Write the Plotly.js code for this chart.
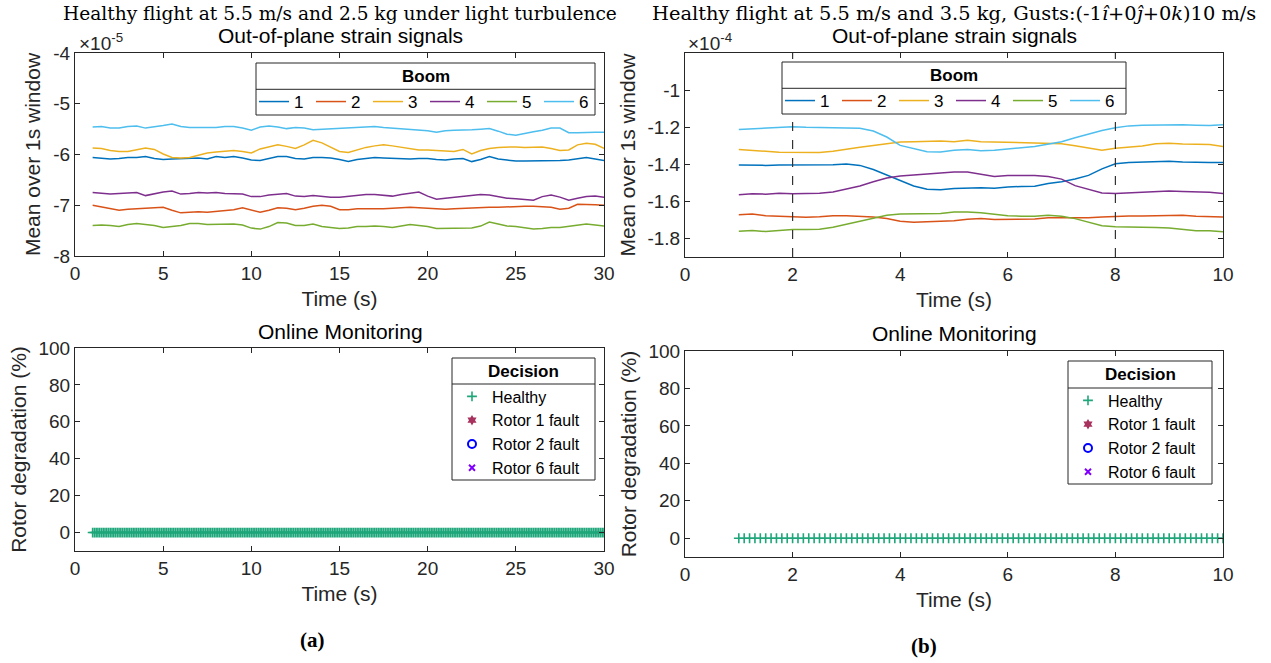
<!DOCTYPE html>
<html>
<head>
<meta charset="utf-8">
<script src="https://cdn.plot.ly/plotly-3.0.1.min.js"></script>
<style>
html,body{margin:0;padding:0;background:#fff;}
#chart{width:1271px;height:663px;}
</style>
</head>
<body>
<div id="chart"></div>
<script>
// ---------------- DATA ----------------
// (a) Healthy flight at 5.5 m/s, 2.5 kg, light turbulence. Strain values in units of 1e-5
const timeA = [1,1.5,2,2.5,3,3.5,4,4.5,5,5.5,6,6.5,7,7.5,8,8.5,9,9.5,10,10.5,11,11.5,12,12.5,13,13.5,
  14,14.5,15,15.5,16,16.5,17,17.5,18,18.5,19,19.5,20,20.5,21,21.5,22,22.5,23,23.5,24,24.5,25,25.5,26,26.5,27,27.5,28,28.5,29,29.5,30];
const boomA1 = [-6.06,-6.07,-6.09,-6.08,-6.06,-6.06,-6.04,-6.08,-6.10,-6.09,-6.08,-6.07,-6.07,-6.09,-6.04,-6.06,-6.04,-6.07,-6.11,-6.12,-6.08,-6.04,-6.04,-6.08,-6.09,-6.06,
  -6.06,-6.07,-6.10,-6.14,-6.10,-6.08,-6.06,-6.07,-6.08,-6.09,-6.09,-6.08,-6.08,-6.10,-6.11,-6.09,-6.08,-6.14,-6.10,-6.04,-6.09,-6.11,-6.13,-6.13,-6.13,-6.12,-6.12,-6.12,-6.11,-6.08,-6.06,-6.09,-6.12];
const boomA2 = [-7.00,-7.03,-7.07,-7.10,-7.08,-7.07,-7.07,-7.05,-7.04,-7.10,-7.15,-7.14,-7.13,-7.14,-7.12,-7.10,-7.09,-7.05,-7.10,-7.14,-7.10,-7.05,-7.06,-7.09,-7.06,-7.02,
  -7.00,-7.02,-7.09,-7.09,-7.07,-7.07,-7.08,-7.07,-7.06,-7.05,-7.04,-7.05,-7.06,-7.07,-7.08,-7.07,-7.06,-7.05,-7.05,-7.04,-7.04,-7.03,-7.03,-7.02,-7.02,-7.03,-7.04,-7.08,-7.06,-6.98,-6.98,-6.99,-7.00];
const boomA3 = [-5.87,-5.88,-5.92,-5.94,-5.94,-5.91,-5.87,-5.90,-5.99,-6.06,-6.07,-6.06,-6.02,-5.97,-5.95,-5.93,-5.92,-5.94,-5.97,-5.89,-5.85,-5.81,-5.84,-5.88,-5.81,-5.72,
  -5.77,-5.85,-5.94,-5.96,-5.91,-5.86,-5.83,-5.81,-5.83,-5.86,-5.89,-5.91,-5.91,-5.92,-5.92,-5.94,-5.90,-5.99,-5.92,-5.88,-5.86,-5.85,-5.85,-5.86,-5.85,-5.85,-5.88,-5.92,-5.91,-5.81,-5.78,-5.80,-5.88];
const boomA4 = [-6.75,-6.77,-6.78,-6.77,-6.76,-6.75,-6.81,-6.77,-6.74,-6.72,-6.78,-6.77,-6.75,-6.76,-6.75,-6.77,-6.77,-6.78,-6.83,-6.83,-6.80,-6.78,-6.77,-6.82,-6.83,-6.81,
  -6.83,-6.84,-6.84,-6.82,-6.80,-6.79,-6.79,-6.80,-6.82,-6.79,-6.77,-6.74,-6.82,-6.88,-6.86,-6.84,-6.83,-6.81,-6.79,-6.80,-6.83,-6.86,-6.87,-6.88,-6.90,-6.83,-6.80,-6.84,-6.90,-6.86,-6.83,-6.82,-6.84];
const boomA5 = [-7.40,-7.39,-7.40,-7.42,-7.38,-7.36,-7.38,-7.40,-7.44,-7.42,-7.40,-7.36,-7.36,-7.38,-7.38,-7.37,-7.37,-7.39,-7.45,-7.47,-7.42,-7.34,-7.35,-7.40,-7.40,-7.37,
  -7.42,-7.44,-7.46,-7.45,-7.42,-7.42,-7.41,-7.42,-7.44,-7.41,-7.38,-7.40,-7.42,-7.46,-7.46,-7.46,-7.46,-7.45,-7.41,-7.33,-7.37,-7.41,-7.42,-7.45,-7.47,-7.46,-7.44,-7.44,-7.42,-7.40,-7.37,-7.39,-7.41];
const boomA6 = [-5.46,-5.45,-5.48,-5.48,-5.45,-5.44,-5.48,-5.46,-5.43,-5.40,-5.45,-5.47,-5.47,-5.47,-5.47,-5.45,-5.45,-5.48,-5.52,-5.46,-5.44,-5.46,-5.49,-5.47,-5.48,-5.51,
  -5.50,-5.49,-5.48,-5.48,-5.47,-5.46,-5.45,-5.47,-5.48,-5.49,-5.50,-5.52,-5.53,-5.56,-5.53,-5.52,-5.52,-5.51,-5.50,-5.49,-5.54,-5.60,-5.62,-5.58,-5.55,-5.52,-5.48,-5.48,-5.57,-5.57,-5.56,-5.56,-5.56];

// (b) Healthy flight at 5.5 m/s, 3.5 kg, gust. Strain values in units of 1e-4
const timeB = [1,1.25,1.5,1.75,2,2.25,2.5,2.75,3,3.25,3.5,3.75,4,4.25,4.5,4.75,
  5,5.25,5.5,5.75,6,6.25,6.5,6.75,7,7.25,7.5,7.75,8,8.25,8.5,8.75,9,9.25,9.5,9.75,10];
const boomB1 = [-1.404,-1.406,-1.406,-1.404,-1.404,-1.406,-1.406,-1.402,-1.399,-1.406,-1.428,-1.458,-1.488,-1.517,-1.535,-1.538,
  -1.531,-1.527,-1.527,-1.529,-1.522,-1.520,-1.518,-1.504,-1.494,-1.479,-1.460,-1.425,-1.397,-1.391,-1.388,-1.384,-1.384,-1.388,-1.391,-1.391,-1.391];
const boomB2 = [-1.672,-1.668,-1.677,-1.679,-1.683,-1.686,-1.683,-1.677,-1.677,-1.679,-1.684,-1.693,-1.707,-1.713,-1.711,-1.707,
  -1.705,-1.696,-1.693,-1.698,-1.696,-1.696,-1.695,-1.688,-1.688,-1.688,-1.689,-1.684,-1.680,-1.679,-1.679,-1.677,-1.677,-1.675,-1.680,-1.684,-1.684];
const boomB3 = [-1.321,-1.324,-1.330,-1.335,-1.337,-1.337,-1.337,-1.330,-1.317,-1.308,-1.299,-1.290,-1.280,-1.278,-1.276,-1.274,
  -1.278,-1.271,-1.278,-1.280,-1.278,-1.282,-1.286,-1.284,-1.289,-1.300,-1.314,-1.325,-1.313,-1.307,-1.302,-1.289,-1.286,-1.291,-1.293,-1.293,-1.304];
const boomB4 = [-1.565,-1.559,-1.561,-1.556,-1.559,-1.557,-1.556,-1.549,-1.533,-1.517,-1.494,-1.474,-1.463,-1.458,-1.449,-1.445,
  -1.442,-1.442,-1.455,-1.466,-1.460,-1.460,-1.460,-1.466,-1.480,-1.515,-1.537,-1.555,-1.558,-1.555,-1.551,-1.547,-1.544,-1.547,-1.549,-1.551,-1.558];
const boomB5 = [-1.761,-1.757,-1.763,-1.757,-1.752,-1.752,-1.750,-1.739,-1.722,-1.707,-1.691,-1.675,-1.668,-1.666,-1.665,-1.666,
  -1.657,-1.657,-1.662,-1.671,-1.678,-1.680,-1.680,-1.675,-1.680,-1.693,-1.711,-1.732,-1.737,-1.737,-1.737,-1.741,-1.743,-1.750,-1.759,-1.759,-1.764];
const boomB6 = [-1.212,-1.208,-1.203,-1.200,-1.198,-1.201,-1.203,-1.201,-1.203,-1.206,-1.221,-1.253,-1.298,-1.317,-1.333,-1.334,
  -1.325,-1.321,-1.327,-1.325,-1.316,-1.311,-1.304,-1.289,-1.278,-1.257,-1.236,-1.218,-1.203,-1.193,-1.189,-1.187,-1.187,-1.187,-1.189,-1.191,-1.187];
const gustTimesB = [2, 8];

// Online monitoring decisions (rotor degradation, %)
const decisionTimesA = [
  1,1.1,1.2,1.3,1.4,1.5,1.6,1.7,1.8,1.9, 2,2.1,2.2,2.3,2.4,2.5,2.6,2.7,2.8,2.9,
  3,3.1,3.2,3.3,3.4,3.5,3.6,3.7,3.8,3.9, 4,4.1,4.2,4.3,4.4,4.5,4.6,4.7,4.8,4.9,
  5,5.1,5.2,5.3,5.4,5.5,5.6,5.7,5.8,5.9, 6,6.1,6.2,6.3,6.4,6.5,6.6,6.7,6.8,6.9,
  7,7.1,7.2,7.3,7.4,7.5,7.6,7.7,7.8,7.9, 8,8.1,8.2,8.3,8.4,8.5,8.6,8.7,8.8,8.9,
  9,9.1,9.2,9.3,9.4,9.5,9.6,9.7,9.8,9.9, 10,10.1,10.2,10.3,10.4,10.5,10.6,10.7,10.8,10.9,
  11,11.1,11.2,11.3,11.4,11.5,11.6,11.7,11.8,11.9, 12,12.1,12.2,12.3,12.4,12.5,12.6,12.7,12.8,12.9,
  13,13.1,13.2,13.3,13.4,13.5,13.6,13.7,13.8,13.9, 14,14.1,14.2,14.3,14.4,14.5,14.6,14.7,14.8,14.9,
  15,15.1,15.2,15.3,15.4,15.5,15.6,15.7,15.8,15.9, 16,16.1,16.2,16.3,16.4,16.5,16.6,16.7,16.8,16.9,
  17,17.1,17.2,17.3,17.4,17.5,17.6,17.7,17.8,17.9, 18,18.1,18.2,18.3,18.4,18.5,18.6,18.7,18.8,18.9,
  19,19.1,19.2,19.3,19.4,19.5,19.6,19.7,19.8,19.9, 20,20.1,20.2,20.3,20.4,20.5,20.6,20.7,20.8,20.9,
  21,21.1,21.2,21.3,21.4,21.5,21.6,21.7,21.8,21.9, 22,22.1,22.2,22.3,22.4,22.5,22.6,22.7,22.8,22.9,
  23,23.1,23.2,23.3,23.4,23.5,23.6,23.7,23.8,23.9, 24,24.1,24.2,24.3,24.4,24.5,24.6,24.7,24.8,24.9,
  25,25.1,25.2,25.3,25.4,25.5,25.6,25.7,25.8,25.9, 26,26.1,26.2,26.3,26.4,26.5,26.6,26.7,26.8,26.9,
  27,27.1,27.2,27.3,27.4,27.5,27.6,27.7,27.8,27.9, 28,28.1,28.2,28.3,28.4,28.5,28.6,28.7,28.8,28.9,
  29,29.1,29.2,29.3,29.4,29.5,29.6,29.7,29.8,29.9, 30];
const healthyDegA = [
  0,0,0,0,0,0,0,0,0,0, 0,0,0,0,0,0,0,0,0,0, 0,0,0,0,0,0,0,0,0,0, 0,0,0,0,0,0,0,0,0,0,
  0,0,0,0,0,0,0,0,0,0, 0,0,0,0,0,0,0,0,0,0, 0,0,0,0,0,0,0,0,0,0, 0,0,0,0,0,0,0,0,0,0,
  0,0,0,0,0,0,0,0,0,0, 0,0,0,0,0,0,0,0,0,0, 0,0,0,0,0,0,0,0,0,0, 0,0,0,0,0,0,0,0,0,0,
  0,0,0,0,0,0,0,0,0,0, 0,0,0,0,0,0,0,0,0,0, 0,0,0,0,0,0,0,0,0,0, 0,0,0,0,0,0,0,0,0,0,
  0,0,0,0,0,0,0,0,0,0, 0,0,0,0,0,0,0,0,0,0, 0,0,0,0,0,0,0,0,0,0, 0,0,0,0,0,0,0,0,0,0,
  0,0,0,0,0,0,0,0,0,0, 0,0,0,0,0,0,0,0,0,0, 0,0,0,0,0,0,0,0,0,0, 0,0,0,0,0,0,0,0,0,0,
  0,0,0,0,0,0,0,0,0,0, 0,0,0,0,0,0,0,0,0,0, 0,0,0,0,0,0,0,0,0,0, 0,0,0,0,0,0,0,0,0,0,
  0,0,0,0,0,0,0,0,0,0, 0];
const decisionTimesB = [
  1,1.1,1.2,1.3,1.4,1.5,1.6,1.7,1.8,1.9, 2,2.1,2.2,2.3,2.4,2.5,2.6,2.7,2.8,2.9,
  3,3.1,3.2,3.3,3.4,3.5,3.6,3.7,3.8,3.9, 4,4.1,4.2,4.3,4.4,4.5,4.6,4.7,4.8,4.9,
  5,5.1,5.2,5.3,5.4,5.5,5.6,5.7,5.8,5.9, 6,6.1,6.2,6.3,6.4,6.5,6.6,6.7,6.8,6.9,
  7,7.1,7.2,7.3,7.4,7.5,7.6,7.7,7.8,7.9, 8,8.1,8.2,8.3,8.4,8.5,8.6,8.7,8.8,8.9,
  9,9.1,9.2,9.3,9.4,9.5,9.6,9.7,9.8,9.9, 10];
const healthyDegB = [
  0,0,0,0,0,0,0,0,0,0, 0,0,0,0,0,0,0,0,0,0, 0,0,0,0,0,0,0,0,0,0, 0,0,0,0,0,0,0,0,0,0,
  0,0,0,0,0,0,0,0,0,0, 0,0,0,0,0,0,0,0,0,0, 0,0,0,0,0,0,0,0,0,0, 0,0,0,0,0,0,0,0,0,0,
  0,0,0,0,0,0,0,0,0,0, 0];
// No fault decisions occurred in either flight (a single empty sample keeps the legend entry)
const rotor1FaultTimes = [null], rotor1FaultDeg = [null];
const rotor2FaultTimes = [null], rotor2FaultDeg = [null];
const rotor6FaultTimes = [null], rotor6FaultDeg = [null];

// Axis ticks / labels
const boomNames = ['1','2','3','4','5','6'];
const decisionNames = ['Healthy','Rotor 1 fault','Rotor 2 fault','Rotor 6 fault'];
const xTicksA = [0,5,10,15,20,25,30];
const xTicksB = [0,2,4,6,8,10];
const yTicksA = [-8,-7,-6,-5,-4];
const yTickTextA = ['-8','-7','-6','-5','-4'];
const yTicksB = [-1.8,-1.6,-1.4,-1.2,-1];
const yTickTextB = ['-1.8','-1.6','-1.4','-1.2','-1'];
const degTicks = [0,20,40,60,80,100];

// ---------------- STYLE ----------------
const W = 1271, H = 663;
const px = v => v / W;
const py = v => 1 - v / H;
const SANS = 'Liberation Sans, Arial, Helvetica, sans-serif';
const SERIF = 'DejaVu Serif, Liberation Serif, serif';
const AX = '#262626';
const boomColors = ['#0072BD','#D95319','#EDB120','#7E2F8E','#77AC30','#4DBEEE'];

const seriesA = [boomA1, boomA2, boomA3, boomA4, boomA5, boomA6];
const seriesB = [boomB1, boomB2, boomB3, boomB4, boomB5, boomB6];

const traces = [];
seriesA.forEach((ys, i) => traces.push({
  type:'scatter', mode:'lines', x: timeA, y: ys, name: boomNames[i],
  xaxis:'x', yaxis:'y', legend:'legend',
  line:{color: boomColors[i], width:1.5}, hoverinfo:'skip'
}));
seriesB.forEach((ys, i) => traces.push({
  type:'scatter', mode:'lines', x: timeB, y: ys, name: boomNames[i],
  xaxis:'x2', yaxis:'y2', legend:'legend2',
  line:{color: boomColors[i], width:1.5}, hoverinfo:'skip'
}));

function decisionTraces(xa, ya, leg, tH, dH) {
  return [
    {type:'scatter', mode:'markers', x:tH, y:dH, name:decisionNames[0], xaxis:xa, yaxis:ya, legend:leg,
     marker:{symbol:'cross-thin', size:7, color:'#1FA67A', line:{color:'#1FA67A', width:1.6}}, hoverinfo:'skip'},
    {type:'scatter', mode:'markers', x:rotor1FaultTimes, y:rotor1FaultDeg, name:decisionNames[1], xaxis:xa, yaxis:ya, legend:leg,
     marker:{symbol:'hexagram', size:8, color:'#A8325E'}, hoverinfo:'skip'},
    {type:'scatter', mode:'markers', x:rotor2FaultTimes, y:rotor2FaultDeg, name:decisionNames[2], xaxis:xa, yaxis:ya, legend:leg,
     marker:{symbol:'circle-open', size:8, color:'#0000FF', line:{color:'#0000FF', width:2}}, hoverinfo:'skip'},
    {type:'scatter', mode:'markers', x:rotor6FaultTimes, y:rotor6FaultDeg, name:decisionNames[3], xaxis:xa, yaxis:ya, legend:leg,
     marker:{symbol:'x-thin', size:6, color:'#8000FF', line:{color:'#8000FF', width:2}}, hoverinfo:'skip'}
  ];
}
traces.push(...decisionTraces('x3','y3','legend3', decisionTimesA, healthyDegA));
traces.push(...decisionTraces('x4','y4','legend4', decisionTimesB, healthyDegB));

const axisBase = {
  showline:true, linecolor:AX, linewidth:1, mirror:'ticks',
  ticks:'inside', ticklen:5, tickwidth:1, tickcolor:AX,
  showgrid:false, zeroline:false, fixedrange:true,
  tickfont:{family:SANS, size:19, color:AX}
};
const xTitle = (standoff) => ({text:'Time (s)', font:{family:SANS, size:21, color:AX}, standoff});
const yTitle = (t, standoff) => ({text:t, font:{family:SANS, size:21, color:AX}, standoff});

const legendBase = {
  bgcolor:'rgba(0,0,0,0)', borderwidth:0,
  font:{family:SANS, size:17, color:'#000'}
};

const boxLine = {color:AX, width:1};
const shapes = [];
gustTimesB.forEach(g => shapes.push({type:'line', xref:'x2', yref:'y2 domain', x0:g, x1:g, y0:0, y1:1,
  line:{color:'#333', width:1.2, dash:'dash'}, layer:'above'}));
function legendBox(x0, x1, yTop, ySep, yBot) {
  shapes.push({type:'rect', xref:'paper', yref:'paper', x0:px(x0), x1:px(x1), y0:py(yBot), y1:py(yTop),
    line:boxLine, fillcolor:'#fff', layer:'above'});
  shapes.push({type:'line', xref:'paper', yref:'paper', x0:px(x0), x1:px(x1), y0:py(ySep), y1:py(ySep),
    line:boxLine, layer:'above'});
}
legendBox(256, 595, 63, 89.3, 115);
legendBox(782, 1126, 62, 88.3, 114);
legendBox(452, 595, 358, 384, 480);
legendBox(1068, 1212, 361, 388, 484);

const ann = (text, x, y, font, extra) => Object.assign({text, x:px(x), y:py(y), xref:'paper', yref:'paper',
  showarrow:false, xanchor:'center', yanchor:'middle', font}, extra || {});
const annotations = [
  ann('Healthy flight at 5.5 m/s and 2.5 kg under light turbulence', 340, 13, {family:SERIF, size:18.6, color:'#000'}),
  ann('Healthy flight at 5.5 m/s and 3.5 kg, Gusts:(-1<i>î</i>+0<i>ĵ</i>+0<i>k</i>)10 m/s', 954, 13, {family:SERIF, size:19.4, color:'#000'}),
  ann('Out-of-plane strain signals', 340, 35, {family:SANS, size:21, color:'#000'}),
  ann('Out-of-plane strain signals', 954, 35, {family:SANS, size:21, color:'#000'}),
  ann('Online Monitoring', 340, 331.5, {family:SANS, size:21, color:'#000'}),
  ann('Online Monitoring', 954, 333, {family:SANS, size:21, color:'#000'}),
  ann('×10<sup>-5</sup>', 77, 42, {family:SANS, size:19, color:AX}, {xanchor:'left'}),
  ann('×10<sup>-4</sup>', 686, 42, {family:SANS, size:19, color:AX}, {xanchor:'left'}),
  ann('<b>Boom</b>', 425.5, 76, {family:SANS, size:17, color:'#000'}),
  ann('<b>Boom</b>', 954, 75, {family:SANS, size:17, color:'#000'}),
  ann('<b>Decision</b>', 523.5, 371, {family:SANS, size:17, color:'#000'}),
  ann('<b>Decision</b>', 1140, 374.5, {family:SANS, size:17, color:'#000'}),
  ann('<b>(a)</b>', 312, 640, {family:'Liberation Serif, serif', size:21, color:'#000'}),
  ann('<b>(b)</b>', 924, 646, {family:'Liberation Serif, serif', size:21, color:'#000'})
];

const layout = {
  width:W, height:H, margin:{l:0, r:0, t:0, b:0},
  paper_bgcolor:'#fff', plot_bgcolor:'#fff', showlegend:true,
  xaxis: Object.assign({}, axisBase, {domain:[px(75), px(604)], range:[0,30], tickvals:xTicksA, anchor:'y', title:xTitle(8)}),
  yaxis: Object.assign({}, axisBase, {domain:[py(256), py(53)], range:[-8,-4], tickvals:yTicksA, ticktext:yTickTextA, anchor:'x', title:yTitle('Mean over 1s window', 6)}),
  xaxis2: Object.assign({}, axisBase, {domain:[px(685), px(1223)], range:[0,10], tickvals:xTicksB, anchor:'y2', title:xTitle(8)}),
  yaxis2: Object.assign({}, axisBase, {domain:[py(257), py(53)], range:[-1.9,-0.8], tickvals:yTicksB, ticktext:yTickTextB, anchor:'x2', title:yTitle('Mean over 1s window', 6)}),
  xaxis3: Object.assign({}, axisBase, {domain:[px(75), px(604)], range:[0,30], tickvals:xTicksA, anchor:'y3', title:xTitle(8)}),
  yaxis3: Object.assign({}, axisBase, {domain:[py(551), py(348)], range:[-10,100], tickvals:degTicks, anchor:'x3', title:yTitle('Rotor degradation (%)', 6)}),
  xaxis4: Object.assign({}, axisBase, {domain:[px(685), px(1223)], range:[0,10], tickvals:xTicksB, anchor:'y4', title:xTitle(8)}),
  yaxis4: Object.assign({}, axisBase, {domain:[py(557), py(351)], range:[-10,100], tickvals:degTicks, anchor:'x4', title:yTitle('Rotor degradation (%)', 6)}),
  legend: Object.assign({}, legendBase, {orientation:'h', x:px(254), xanchor:'left', y:py(102), yanchor:'middle', entrywidth:12}),
  legend2: Object.assign({}, legendBase, {orientation:'h', x:px(780), xanchor:'left', y:py(101), yanchor:'middle', entrywidth:12}),
  legend3: Object.assign({}, legendBase, {orientation:'v', x:px(452), xanchor:'left', y:py(432.5), yanchor:'middle', font:{family:SANS, size:16, color:'#000'}}),
  legend4: Object.assign({}, legendBase, {orientation:'v', x:px(1068), xanchor:'left', y:py(436.5), yanchor:'middle', font:{family:SANS, size:16, color:'#000'}}),
  shapes, annotations
};

Plotly.newPlot('chart', traces, layout, {displayModeBar:false, staticPlot:true});
</script>
</body>
</html>
